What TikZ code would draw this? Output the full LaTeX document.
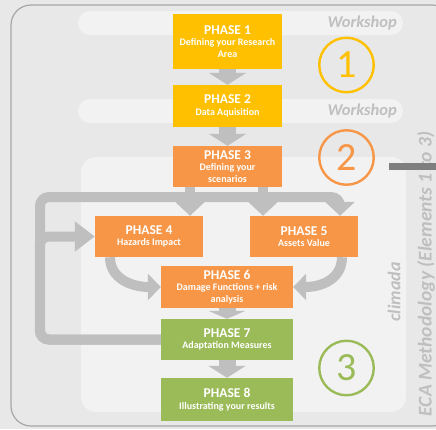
\documentclass[tikz,border=0pt]{standalone}
\usepackage{fontspec}
\setmainfont{Carlito}
\usetikzlibrary{arrows.meta}
\definecolor{phyellow}{HTML}{FFC000}
\definecolor{phorange}{HTML}{F79646}
\definecolor{phgreen}{HTML}{9BBB59}
\definecolor{arrowgray}{HTML}{BFBFBF}
\definecolor{bggray}{HTML}{E8E8E8}
\definecolor{panelgray}{HTML}{F2F2F2}
\definecolor{framegray}{HTML}{A6A6A6}
\definecolor{bargray}{HTML}{7F7F7F}
\definecolor{labelgray}{HTML}{BFBFBF}
\newcommand{\phasehead}[1]{{\fontsize{13.5}{16}\selectfont PHASE #1}}
\begin{document}
\begin{tikzpicture}[x=1pt,y=-1pt,
    phase/.style={fill=#1,text=white,align=center,inner sep=0pt,
      font=\fontsize{10}{11.5}\selectfont\bfseries},
    numring/.style={circle,draw=#1,text=#1,line width=2.4pt,minimum size=54.5pt,
      inner sep=0pt,font=\fontsize{40}{40}\selectfont},
    sidelabel/.style={text=labelgray,font=\bfseries\itshape,inner sep=0pt},
    blockarrow/.style={draw=arrowgray,line width=17pt,-{Triangle[width=37pt,length=12pt]}},
    loopline/.style={draw=arrowgray,line width=10pt},
    gtip/.style={-{Triangle[width=29pt,length=14pt]}}]
  \useasboundingbox (0,0) rectangle (436,429);
  \fill[bggray] (0,0) rectangle (436,429);
  % frames and bands
  \draw[framegray,line width=1.2pt,rounded corners=20pt] (11,5) rectangle (452,426);
  \fill[panelgray,rounded corners=15pt] (81,157) rectangle (406,412);
  \foreach \y/\n in {23/1,111/2} {
    \fill[panelgray,rounded corners=12pt] (78,\y-12) rectangle (403,\y+12);
    \node[sidelabel,anchor=east,font=\fontsize{16.5}{17}\selectfont\bfseries\itshape] (ws\n) at (397,\y) {Workshop};
  }
  \node[sidelabel,rotate=90,font=\fontsize{18}{18}\selectfont\bfseries\itshape] (climada) at (394,292) {climada};
  \node[sidelabel,rotate=90,font=\fontsize{19.5}{20}\selectfont\bfseries\itshape] (eca) at (426,274) {ECA Methodology (Elements 1 to 3)};
  \fill[bargray] (389,163) rectangle (440,170);
  % element numbers
  \node[numring=phyellow] (n1) at (346.5,65) {1};
  \node[numring=phorange] (n2) at (346.5,157.5) {2};
  \node[numring=phgreen] (n3) at (346.5,368) {3};
  % phases
  \node[phase=phyellow,minimum width=109pt,minimum height=55pt] (p1) at (227.5,41.5) {\phasehead{1}\\Defining your Research\\Area};
  \node[phase=phyellow,minimum width=109pt,minimum height=42pt] (p2) at (227.5,106) {\phasehead{2}\\Data Aquisition};
  \node[phase=phorange,minimum width=109pt,minimum height=41pt] (p3) at (227.5,166.5) {\phasehead{3}\\Defining your\\scenarios};
  \node[phase=phorange,minimum width=108pt,minimum height=41pt] (p4) at (149,236.5) {\phasehead{4}\\Hazards Impact};
  \node[phase=phorange,minimum width=108pt,minimum height=41pt] (p5) at (304,236.5) {\phasehead{5}\\Assets Value};
  \node[phase=phorange,minimum width=132pt,minimum height=42pt] (p6) at (227,287) {\phasehead{6}\\Damage Functions + risk\\analysis};
  \node[phase=phgreen,minimum width=132pt,minimum height=41pt] (p7) at (227,339.5) {\phasehead{7}\\Adaptation Measures};
  \node[phase=phgreen,minimum width=132pt,minimum height=43pt] (p8) at (227,399.5) {\phasehead{8}\\Illustrating your results};
  % arrows
  \draw[blockarrow] (p1) -- (p2);
  \draw[blockarrow] (p2) -- (p3);
  \draw[blockarrow,-{Triangle[width=37pt,length=8pt]}] (p6) -- (p7);
  \draw[blockarrow] (p7) -- (p8);
  \draw[loopline,rounded corners=9pt,-{Triangle[width=29pt,length=20pt]}] (p7.west) -| ([xshift=-55pt]p4.west) -- (p4.west);
  \draw[loopline,rounded corners=9pt,gtip] (p7.west) -| (40,197) -| ([xshift=36pt]p5.north);
  \draw[loopline,gtip] ([xshift=-37.5pt]p3.south) coordinate (s4) -- (s4 |- p4.north);
  \draw[loopline,gtip] ([xshift=35.5pt]p3.south) coordinate (s5) -- (s5 |- p5.north);
  \draw[loopline,-{Triangle[width=26pt,length=13pt]}] ([xshift=-39pt]p4.south) .. controls +(0,22) and +(-28,0) .. (p6.west);
  \draw[loopline,-{Triangle[width=26pt,length=13pt]}] ([xshift=38pt]p5.south) .. controls +(0,22) and +(28,0) .. (p6.east);
\end{tikzpicture}
\end{document}
